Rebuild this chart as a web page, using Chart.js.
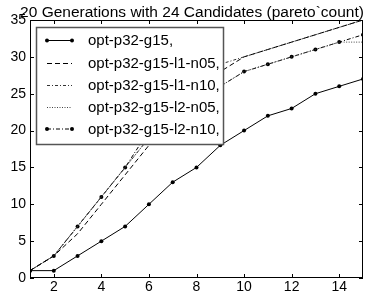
<!DOCTYPE html>
<html><head><meta charset="utf-8">
<script src="https://cdn.jsdelivr.net/npm/chart.js@4/dist/chart.umd.min.js"></script>
<style>html,body{margin:0;padding:0;background:#fff}canvas{display:block}</style>
</head><body>
<canvas id="c" width="369" height="296"></canvas>
<script>
const titleText = "20 Generations with 24 Candidates (pareto`count)";
const generations = [1,2,3,4,5,6,7,8,9,10,11,12,13,14,15];
const seriesNames = ["opt-p32-g15,","opt-p32-g15-l1-n05,","opt-p32-g15-l1-n10,","opt-p32-g15-l2-n05,","opt-p32-g15-l2-n10,"];
const g15      = [1,1,3,5,7,10,13,15,18,20,22,23,25,26,27];
const l1n05    = [1,3,6,10,14,18,22,25,28,30,31,32,33,34,35];
const l1n10    = [1,3,7,11,15,19,23,26,29,30,31,32,33,34,35];
const l2n05    = [1,3,7,11,15,19,22,24,26,28,29,30,31,32,32];
const l2n10    = [1,3,7,11,15,20,22,24,26,28,29,30,31,32,33];
const xTicks = [2,4,6,8,10,12,14];
const yTicks = [0,5,10,15,20,25,30,35];

const FONT = "'Liberation Sans', Arial, sans-serif";
const styles = [
  {dash: [], marker: true, color:'#000'},
  {dash: [5,3], marker: false, color:'#000'},
  {dash: [3,2,1,2], marker: false, color:'#333'},
  {dash: [1,1.5], marker: false, color:'#444'},
  {dash: [4,2,1,2], marker: true, color:'#000'}
];
const allSeries = [g15,l1n05,l1n10,l2n05,l2n10];
const datasets = allSeries.map((vals,i)=>({
  label: seriesNames[i],
  data: generations.map((g,j)=>({x:g,y:vals[j]})),
  borderColor: styles[i].color,
  backgroundColor: '#000',
  borderWidth: 1,
  borderDash: styles[i].dash,
  pointRadius: styles[i].marker ? 2 : 0,
  pointBorderWidth: 0,
  pointBackgroundColor: '#000',
  tension: 0,
  fill: false
}));

const framePlugin = {
  id: 'frame',
  afterDatasetsDraw(chart){
    const ctx = chart.ctx, a = chart.chartArea;
    const xs = chart.scales.x, ys = chart.scales.y;
    ctx.save();
    ctx.setLineDash([]);
    ctx.strokeStyle = '#000';
    ctx.lineWidth = 1;
    const L = 4;
    ctx.beginPath();
    xTicks.forEach(v=>{
      const px = Math.round(xs.getPixelForValue(v))+0.5;
      ctx.moveTo(px,a.bottom); ctx.lineTo(px,a.bottom-L);
      ctx.moveTo(px,a.top); ctx.lineTo(px,a.top+L);
    });
    yTicks.forEach(v=>{
      const py = Math.round(ys.getPixelForValue(v))+0.5;
      ctx.moveTo(a.left,py); ctx.lineTo(a.left+L,py);
      ctx.moveTo(a.right,py); ctx.lineTo(a.right-L,py);
    });
    ctx.stroke();
    ctx.strokeRect(Math.round(a.left)+0.5, Math.round(a.top)+0.5, Math.round(a.right-a.left)-1, Math.round(a.bottom-a.top)-1);

    // legend
    const bx = 36.5, by = 27.5, bw = 187, bh = 117;
    ctx.fillStyle = '#fff';
    ctx.fillRect(bx,by,bw,bh);
    ctx.strokeStyle = '#555';
    ctx.lineWidth = 1.5;
    ctx.strokeRect(bx,by,bw,bh);
    const rows = [40,63,85,107,128.5];
    ctx.font = "15px " + FONT;
    ctx.textBaseline = 'middle';
    ctx.textAlign = 'left';
    chart.data.datasets.forEach((ds,i)=>{
      const y = rows[i];
      ctx.strokeStyle = ds.borderColor;
      ctx.lineWidth = 1;
      ctx.setLineDash(ds.borderDash);
      ctx.beginPath(); ctx.moveTo(47,y+0.5); ctx.lineTo(72,y+0.5); ctx.stroke();
      ctx.setLineDash([]);
      if (ds.pointRadius>0){
        ctx.fillStyle='#000';
        [47,72].forEach(px=>{ctx.beginPath();ctx.arc(px,y+0.5,2,0,Math.PI*2);ctx.fill();});
      }
      ctx.fillStyle='#000';
      ctx.fillText(ds.label, 88, y+1);
    });
    // title
    ctx.font = "15.5px " + FONT;
    ctx.textAlign = 'center';
    ctx.textBaseline = 'alphabetic';
    ctx.fillText(titleText, 192, 17);
    ctx.restore();
  }
};

new Chart(document.getElementById('c'), {
  type: 'line',
  data: { datasets },
  options: {
    responsive: false,
    animation: false,
    devicePixelRatio: 1,
    layout: { padding: { top: 20, right: 6, left: 0, bottom: 0 } },
    plugins: { legend: { display: false }, title: { display: false }, tooltip: { enabled: false } },
    scales: {
      x: {
        type: 'linear', min: 1, max: 15,
        afterBuildTicks: s => { s.ticks = xTicks.map(v=>({value:v})); },
        afterFit: s => { s.height = 18; },
        grid: { display: false, drawTicks: false },
        border: { display: false },
        ticks: { color: '#000', font: { family: FONT, size: 14 }, padding: 1, maxRotation: 0 }
      },
      y: {
        type: 'linear', min: 0, max: 35,
        afterBuildTicks: s => { s.ticks = yTicks.map(v=>({value:v})); },
        afterFit: s => { s.width = 30; },
        grid: { display: false, drawTicks: false },
        border: { display: false },
        ticks: { color: '#000', font: { family: FONT, size: 14 }, padding: 4 }
      }
    }
  },
  plugins: [framePlugin]
});
</script>
</body></html>
